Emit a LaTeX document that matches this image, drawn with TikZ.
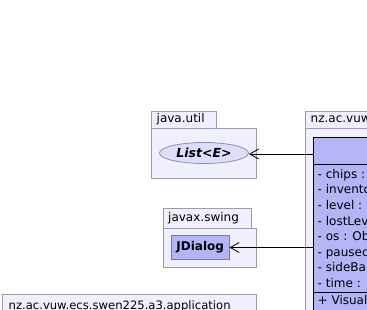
\documentclass[tikz,border=0pt]{standalone}
\usepackage{fontspec}
\setmainfont{DejaVu Sans}
\usetikzlibrary{arrows.meta,shapes.geometric}
\definecolor{pkgfill}{RGB}{240,240,252}
\definecolor{pkgline}{RGB}{155,155,175}
\definecolor{clsfill}{RGB}{180,180,246}
\definecolor{clsline}{RGB}{120,120,170}
\definecolor{iffill}{RGB}{222,222,250}
\definecolor{ifline}{RGB}{140,140,180}
\tikzset{
  pkg/.style={draw=pkgline,fill=pkgfill,line width=0.8pt},
  cls/.style={draw=clsline,fill=clsfill,line width=0.8pt},
  lbl/.style={anchor=mid west,inner sep=0pt,font=\fontsize{12}{14}\selectfont},
  dep/.style={draw=black,line width=0.8pt,-{Straight Barb[length=9pt,width=10pt,line width=0.8pt]}}
}
\begin{document}
\begin{tikzpicture}[x=1pt,y=-1pt]
\useasboundingbox (0,0) rectangle (367,309);
\clip (0,0) rectangle (367,309);
\fill[white] (0,0) rectangle (367,309);

% package java.util
\draw[pkg] (151.5,111.5) rectangle (216.5,128.5);
\draw[pkg] (151.5,128.5) rectangle (256,178.5);
\node[lbl] (utilname) at (156.5,120) {java.util};
\node[draw=ifline,fill=iffill,line width=0.8pt,ellipse,minimum width=89pt,minimum height=21pt,inner sep=0pt,
      font=\fontsize{12.5}{14}\selectfont\bfseries\itshape] (list) at (204,153) {List<E>};

% package javax.swing
\draw[pkg] (163,208.5) rectangle (251,228);
\draw[pkg] (163,228) rectangle (256,267);
\node[lbl] (swingname) at (168,218.5) {javax.swing};
\node[cls,minimum width=57.5pt,minimum height=24pt,inner sep=0pt,
      font=\fontsize{12}{14}\selectfont\bfseries] (jdialog) at (200.25,247.5) {JDialog};

% package nz.ac.vuw (right)
\draw[pkg] (305.5,111.5) rectangle (390,128.5);
\draw[pkg] (305.5,128.5) rectangle (390,330);
\node[lbl] (vuwname) at (310.5,120) {nz.ac.vuw.ecs};

% class in the right package
\draw[fill=clsfill,draw=black,line width=0.8pt] (313.5,137.5) rectangle (390,330);
\coordinate (clsw1) at (313.5,154);
\coordinate (clsw2) at (313.5,247.5);
\draw[black,line width=0.8pt] (313.5,164.5) -- (390,164.5);
\draw[black,line width=0.8pt] (313.5,292.5) -- (390,292.5);
\foreach \t [count=\i from 0] in {{- chips :},{- inventory},{- level :},{- lostLevel},{- os : Object},{- paused},{- sideBar},{- time :}}
  \node[lbl] (attr\i) at (317.5,175.5+15.6*\i) {\t};
\node[lbl] (op0) at (317.5,301.5) {+ VisualGame};

% package nz.ac.vuw.ecs.swen225.a3.application
\draw[pkg] (2.5,294) rectangle (256.5,330);
\node[lbl,font=\fontsize{11.6}{14}\selectfont] (appname) at (8.5,306.5) {nz.ac.vuw.ecs.swen225.a3.application};

% dependencies
\draw[dep] (clsw1) -- (list.east |- clsw1);
\draw[dep] (clsw2) -- (jdialog.east |- clsw2);
\end{tikzpicture}
\end{document}
